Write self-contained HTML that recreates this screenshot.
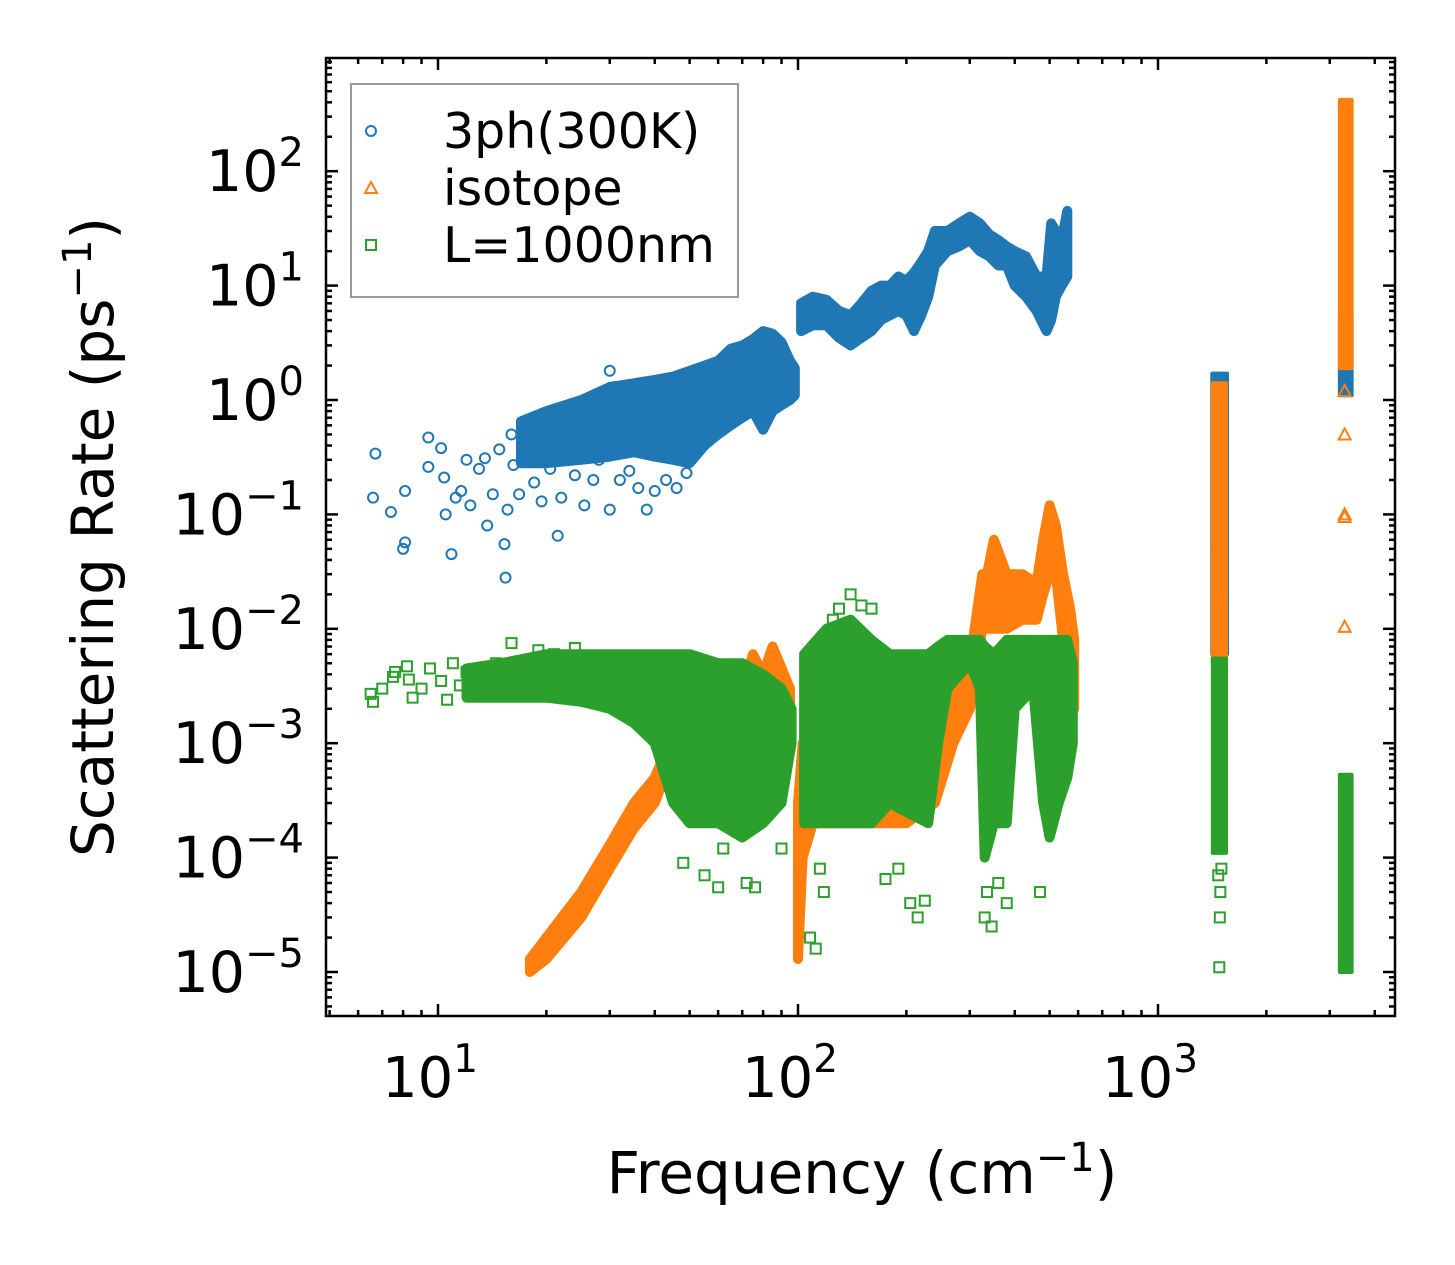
<!DOCTYPE html>
<html><head><meta charset="utf-8"><style>
html,body{margin:0;padding:0;background:#fff;}
svg{display:block;font-family:"DejaVu Sans","Liberation Sans",sans-serif;}
</style></head><body>
<svg id="chart" width="1455" height="1265" viewBox="0 0 1455 1265" xmlns="http://www.w3.org/2000/svg">
<rect x="0" y="0" width="1455" height="1265" fill="#fff"/>
<g id="marks"></g>
<g id="axes"></g>
<g id="legend">
 <rect x="351" y="84" width="387" height="213" fill="#fff" fill-opacity="0.8" stroke="#999" stroke-width="2"/>
 <circle cx="371" cy="131" r="5" fill="none" stroke="#1f77b4" stroke-width="2"/>
 <text x="443" y="148" font-size="49">3ph(300K)</text>
 <polygon points="371,182 377,193 365,193" fill="none" stroke="#ff7f0e" stroke-width="2"/>
 <text x="443" y="205" font-size="49">isotope</text>
 <rect x="366" y="240" width="10" height="10" fill="none" stroke="#2ca02c" stroke-width="2"/>
 <text x="443" y="262" font-size="49">L=1000nm</text>
</g>
<text x="862" y="1193" font-size="58" text-anchor="middle">Frequency (cm<tspan font-size="40" dy="-22">−1</tspan><tspan dy="22">)</tspan></text>
<text transform="translate(113,537) rotate(-90)" font-size="58" text-anchor="middle">Scattering Rate (ps<tspan font-size="40" dy="-22">−1</tspan><tspan dy="22">)</tspan></text>
</svg>
<script>
// ---- axis tick data ----
const xTickExps = [1, 2, 3];
const yTickExps = [2, 1, 0, -1, -2, -3, -4, -5];

// ---- blue: 3ph(300K) ----
const blueSparseF = [6.7,6.6,7.4,8.1,8.0,8.1,9.4,9.4,10.2,10.4,10.5,10.9,11.2,11.6,12.0,12.3,13,13.5,13.7,14.2,14.8,15.3,15.4,15.6,16.2,16.8,17.5,18.5,19.4,20.5,21.5,22,23,24,25.5,27,28,30,32,34,36,38,40,43,46,49,16,18,19,21,25,30,31,22,19.5,17.2];
const blueSparseY = [0.34,0.14,0.105,0.16,0.05,0.057,0.47,0.26,0.38,0.21,0.10,0.045,0.14,0.16,0.30,0.12,0.25,0.31,0.08,0.15,0.37,0.055,0.028,0.11,0.27,0.15,0.42,0.19,0.13,0.25,0.065,0.14,0.4,0.22,0.12,0.2,0.3,0.11,0.2,0.24,0.17,0.11,0.16,0.2,0.17,0.23,0.5,0.6,0.7,0.55,0.45,1.8,1.3,0.7,0.47,0.35];
const blueBandA_F  = [17,20,25,30,35,40,45,50,55,60,65,70,75,80,85,90,95,98];
const blueBandA_Lo = [0.28,0.28,0.3,0.32,0.35,0.32,0.3,0.28,0.4,0.5,0.6,0.7,0.8,0.55,0.8,0.9,1.0,1.1];
const blueBandA_Hi = [0.65,0.8,1.0,1.3,1.4,1.5,1.6,1.8,2.0,2.2,2.8,3.0,3.4,4.0,3.8,3.2,2.2,1.9];
const blueBandB_F  = [102,110,120,130,140,150,160,170,180,190,200,210,220,230,240,260,280,300,320,340,360,380,400,430,460,490,505,520,540,560];
const blueBandB_Lo = [4.0,4.5,4.5,3.5,3.0,3.5,4,5,5.5,6,5.5,4,5.5,8,15,20,22,25,20,18,15,15,10,8,6,4,5,8,10,12];
const blueBandB_Hi = [7,8,7.5,6,5.5,7,9,10,10,12,11,13,16,20,30,30,35,40,35,28,25,22,20,18,12,12,35,30,25,45];
const blueColF  = [1415, 1555, 3200, 3450];
const blueColLo = [0.006, 0.006, 1.1, 1.1];
const blueColHi = [1.7, 1.7, 5.2, 5.2];

// ---- orange: isotope ----
const orangeBandA_F  = [18,20,25,30,35,40,45,50,60,65,70,75,80,85,95];
const orangeBandA_Lo = [1e-5,1.3e-5,3e-5,8e-5,1.8e-4,3e-4,8e-4,1e-3,1e-3,1e-3,1e-3,1e-3,1e-3,1e-3,1e-3];
const orangeBandA_Hi = [1.3e-5,2e-5,5e-5,1.3e-4,3e-4,5e-4,1.2e-3,2e-3,3e-3,5e-3,3e-3,6e-3,4e-3,7e-3,3e-3];
const orangeBandB_F  = [100,103,110,150,200,240,270,300,325,335,350,380,420,460,480,500,520,545,570,585];
const orangeBandB_Lo = [1.3e-5,1e-4,2e-4,2e-4,2e-4,3e-4,1e-3,2e-3,1e-2,1e-2,1e-2,1e-2,1.2e-2,1.2e-2,2e-2,3e-2,3e-2,8e-3,3e-3,2e-3];
const orangeBandB_Hi = [3e-4,1e-3,1e-3,1e-3,1e-3,2e-3,3e-3,5e-3,3e-2,3e-2,6e-2,3e-2,3e-2,2.5e-2,6e-2,1.2e-1,8e-2,3e-2,1.5e-2,8e-3];
const orangeColF  = [1420, 1545, 3200, 3450];
const orangeColLo = [0.005, 0.005, 1.9, 1.9];
const orangeColHi = [1.4, 1.4, 420, 420];
const orangeSparseF = [3300,3300,3300,3300,3300,1480,1500,1470];
const orangeSparseY = [1.2,0.5,0.1,0.095,0.0104,0.03,0.02,0.06];

// ---- green: L=1000nm boundary ----
const greenSparseF = [6.5,6.6,7.0,7.5,7.6,8.2,8.3,8.5,9.0,9.5,10.2,10.6,11,11.5,12,12.5,13.5,14.5,15.2,16,17,19,21,24,26,28,33,36,38,40,42,48,55,60,62,72,76,90,108,112,115,118,125,130,140,150,160,175,190,205,215,225,330,335,345,360,380,470];
const greenSparseY = [2.7e-3,2.3e-3,3e-3,3.8e-3,4.2e-3,4.7e-3,3.6e-3,2.5e-3,3e-3,4.5e-3,3.5e-3,2.4e-3,5e-3,3.2e-3,4.2e-3,3e-3,4.6e-3,5e-3,2.8e-3,7.5e-3,3.5e-3,6.5e-3,6e-3,6.8e-3,5.5e-3,2.5e-3,2.4e-3,1.8e-3,1.5e-3,1.2e-3,9e-4,9e-5,7e-5,5.5e-5,1.2e-4,6e-5,5.5e-5,1.2e-4,2e-5,1.6e-5,8e-5,5e-5,1.2e-2,1.5e-2,2e-2,1.6e-2,1.5e-2,6.5e-5,8e-5,4e-5,3e-5,4.2e-5,3e-5,5e-5,2.5e-5,6e-5,4e-5,5e-5];
const greenBandA_F  = [12,15,20,25,30,35,40,45,50,60,70,80,90,96];
const greenBandA_Lo = [2.5e-3,2.5e-3,2.5e-3,2.3e-3,2e-3,1.5e-3,1e-3,3e-4,2e-4,2e-4,1.5e-4,2e-4,3e-4,1e-3];
const greenBandA_Hi = [4.5e-3,5e-3,6e-3,6e-3,6e-3,6e-3,6e-3,6e-3,6e-3,5e-3,5e-3,4e-3,3e-3,2e-3];
const greenBandB_F  = [104,120,140,160,180,200,230,245,260,300,320,330,350,380,400,450,480,500,530,560,580];
const greenBandB_Lo = [2e-4,2e-4,2e-4,2e-4,3e-4,2.5e-4,2e-4,1e-3,3e-3,5e-3,3e-3,1e-4,2e-4,2e-4,2e-3,3e-3,3e-4,1.5e-4,3e-4,5e-4,1e-3];
const greenBandB_Hi = [6e-3,1e-2,1.2e-2,8e-3,6e-3,6e-3,6e-3,7e-3,8e-3,8e-3,8e-3,7e-3,6e-3,8e-3,8e-3,8e-3,8e-3,8e-3,8e-3,8e-3,5e-3];
const greenColF  = [1420, 1545, 3200, 3450];
const greenColLo = [1.1e-4, 1.1e-4, 1e-5, 1e-5];
const greenColHi = [5.5e-3, 5.5e-3, 5.3e-4, 5.3e-4];
const greenColSparseF = [1480,1485,1490,1470,1500,3300,3350];
const greenColSparseY = [1.1e-5,3e-5,5e-5,7e-5,8e-5,2e-4,1.2e-5];

// ---- axis functions ----
const X0 = 326, X1 = 1395, Y0 = 58, Y1 = 1016;
function xs(f){ return 438 + (Math.log10(f) - 1) * 360; }
function ys(v){ return 400 - Math.log10(v) * 114.4; }

const NS = 'http://www.w3.org/2000/svg';
const marks = document.getElementById('marks');
const axes = document.getElementById('axes');
function mk(tag, attrs, parent){
  const e = document.createElementNS(NS, tag);
  for (const k in attrs) e.setAttribute(k, attrs[k]);
  parent.appendChild(e); return e;
}
const clip = mk('clipPath', {id:'pc'}, document.getElementById('chart'));
mk('rect', {x:X0, y:Y0, width:X1-X0, height:Y1-Y0}, clip);
marks.setAttribute('clip-path', 'url(#pc)');

function band(F, Lo, Hi, color, name){
  const pts = [];
  for (let i=0;i<F.length;i++) pts.push(xs(F[i]).toFixed(1)+','+ys(Hi[i]).toFixed(1));
  for (let i=F.length-1;i>=0;i--) pts.push(xs(F[i]).toFixed(1)+','+ys(Lo[i]).toFixed(1));
  const p = mk('polygon', {points:pts.join(' '), fill:color, stroke:color, 'stroke-width':10, 'stroke-linejoin':'round'}, marks);
  
  
}
function cols(F, Lo, Hi, color, name){
  for (let i=0;i<F.length;i+=2){
    const x0 = xs(F[i]), x1 = xs(F[i+1]);
    const r = mk('rect', {x:x0, y:ys(Hi[i]), width:x1-x0, height:ys(Lo[i])-ys(Hi[i]), fill:color, stroke:color, 'stroke-width':4, 'stroke-linejoin':'round'}, marks);
    
    
  }
}
function circles(F, Y, name){
  for (let i=0;i<F.length;i++){
    const c = mk('circle', {cx:xs(F[i]), cy:ys(Y[i]), r:5, fill:'none', stroke:'#1f77b4', 'stroke-width':2}, marks);
    
    
  }
}
function tris(F, Y, name){
  for (let i=0;i<F.length;i++){
    const x = xs(F[i]), y = ys(Y[i]);
    const t = mk('polygon', {points:`${x},${y-6} ${x+6},${y+5} ${x-6},${y+5}`, fill:'none', stroke:'#ff7f0e', 'stroke-width':2}, marks);
    
    
  }
}
function squares(F, Y, name){
  for (let i=0;i<F.length;i++){
    const s = mk('rect', {x:xs(F[i])-5, y:ys(Y[i])-5, width:10, height:10, fill:'none', stroke:'#2ca02c', 'stroke-width':2}, marks);
    
    
  }
}

band(blueBandA_F, blueBandA_Lo, blueBandA_Hi, '#1f77b4', 'phonon-3ph-band-low');
band(blueBandB_F, blueBandB_Lo, blueBandB_Hi, '#1f77b4', 'phonon-3ph-band-high');
cols(blueColF, blueColLo, blueColHi, '#1f77b4', 'phonon-3ph-optical-column');
circles(blueSparseF, blueSparseY, 'phonon-3ph-point');
band(orangeBandA_F, orangeBandA_Lo, orangeBandA_Hi, '#ff7f0e', 'isotope-band-low');
band(orangeBandB_F, orangeBandB_Lo, orangeBandB_Hi, '#ff7f0e', 'isotope-band-high');
cols(orangeColF, orangeColLo, orangeColHi, '#ff7f0e', 'isotope-optical-column');
tris(orangeSparseF, orangeSparseY, 'isotope-point');
band(greenBandA_F, greenBandA_Lo, greenBandA_Hi, '#2ca02c', 'boundary-band-low');
band(greenBandB_F, greenBandB_Lo, greenBandB_Hi, '#2ca02c', 'boundary-band-high');
cols(greenColF, greenColLo, greenColHi, '#2ca02c', 'boundary-optical-column');
squares(greenSparseF, greenSparseY, 'boundary-point');
squares(greenColSparseF, greenColSparseY, 'boundary-column-point');

// ---- axes ----
const frame = mk('rect', {x:X0, y:Y0, width:X1-X0, height:Y1-Y0, fill:'none', stroke:'#000', 'stroke-width':2.5}, axes);


function tickLine(x1,y1,x2,y2){ mk('line', {x1,y1,x2,y2, stroke:'#000', 'stroke-width':2.5}, axes); }
for (let e=0; e<=3; e++){
  for (let m=1; m<=9; m++){
    const f = m*Math.pow(10,e), x = xs(f);
    if (x < X0 || x > X1) continue;
    const L = m===1 ? 12 : 6;
    tickLine(x, Y1, x, Y1-L); tickLine(x, Y0, x, Y0+L);
  }
}
for (const e of xTickExps){
  const t = mk('text', {x:xs(Math.pow(10,e))-8, y:1097, 'font-size':56, 'text-anchor':'middle'}, axes);
  
  
  t.innerHTML = `10<tspan font-size="39" dy="-25">${e}</tspan>`;
}
for (let e=-6; e<=3; e++){
  for (let m=1; m<=9; m++){
    const v = m*Math.pow(10,e), y = ys(v);
    if (y < Y0 || y > Y1) continue;
    const L = m===1 ? 12 : 6;
    tickLine(X0, y, X0+L, y); tickLine(X1, y, X1-L, y);
  }
}
for (const e of yTickExps){
  const t = mk('text', {x:304, y:ys(Math.pow(10,e))+20, 'font-size':57, 'text-anchor':'end'}, axes);
  
  
  const s = e < 0 ? '−' + (-e) : '' + e;
  t.innerHTML = `10<tspan font-size="40" dy="-25">${s}</tspan>`;
}
</script>
</body></html>
